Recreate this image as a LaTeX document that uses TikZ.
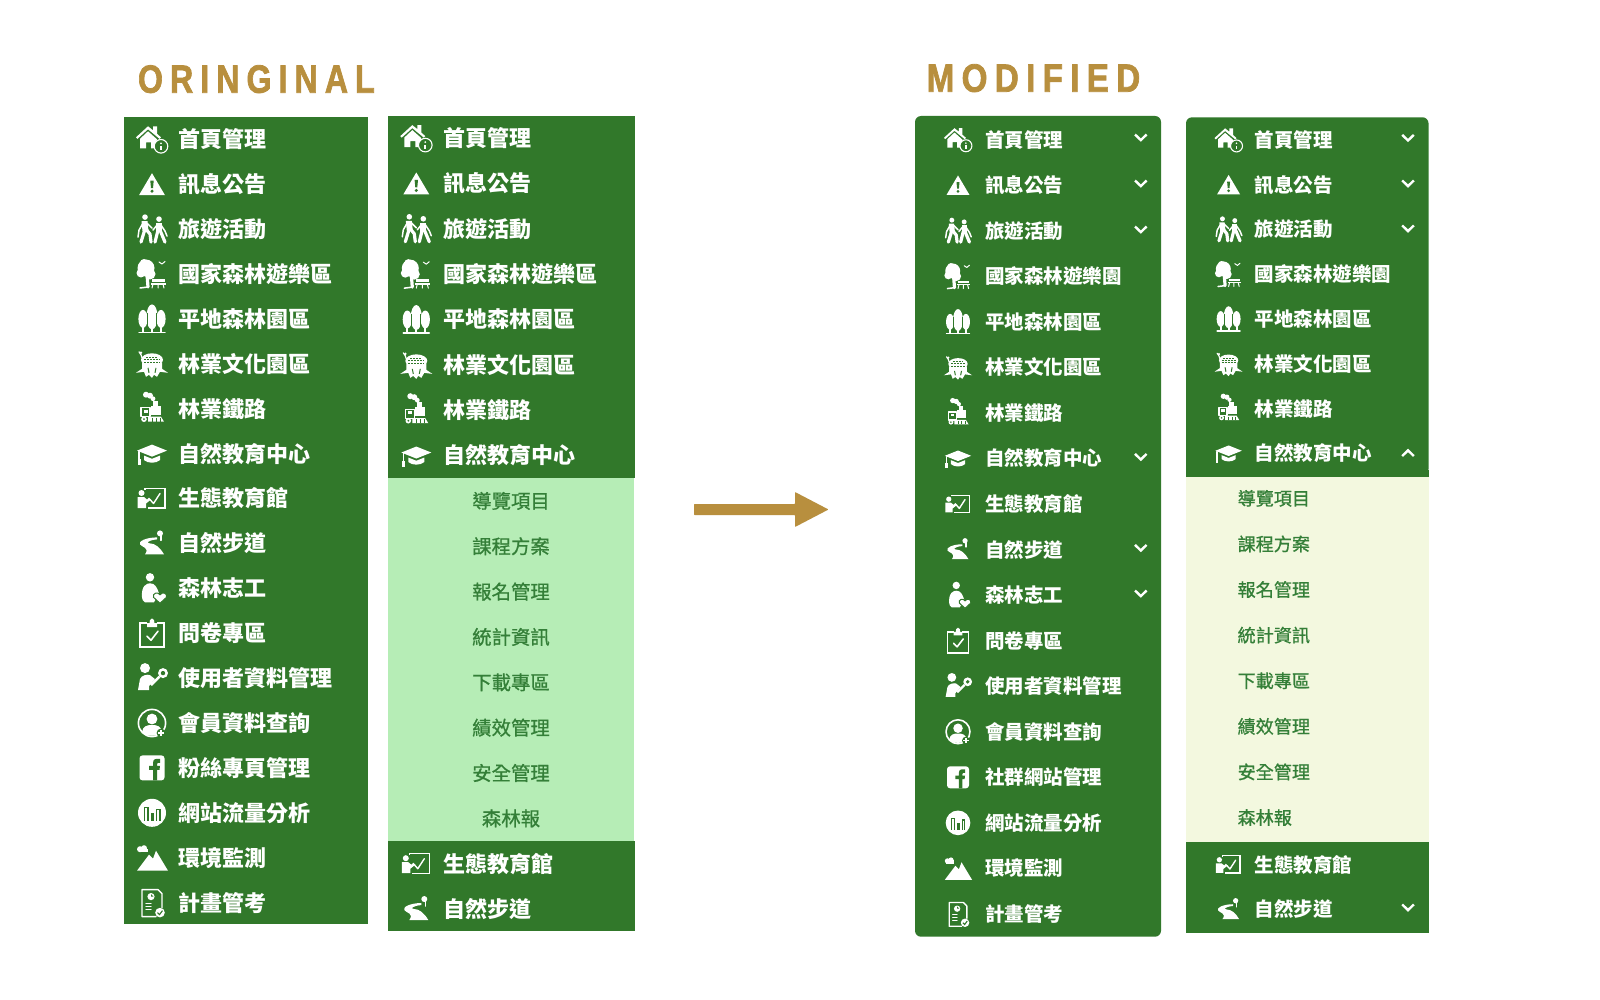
\documentclass[tikz,border=0pt]{standalone}
\usepackage{fontspec}
\newfontfamily\cjkf{Noto Sans CJK TC}
\newfontfamily\cjkg[FakeBold=0.8]{Noto Sans CJK TC}
\newfontfamily\titlef[LetterSpace=22,BoldFeatures={FakeBold=2}]{Liberation Sans}
\definecolor{barg}{HTML}{31782A}
\definecolor{barl}{HTML}{B6EDB6}
\definecolor{barc}{HTML}{F3F8DF}
\definecolor{gold}{HTML}{B88F3E}
\definecolor{subg}{HTML}{347F38}
\tikzset{
  iw/.style={fill=white,draw=none},
  ig/.style={fill=barg,draw=none},
  is/.style={draw=white,line width=1.5,fill=none,line join=round,line cap=round},
  il/.style={draw=white,line width=3.2,fill=none,line join=round,line cap=round},
  igl/.style={draw=barg,line width=1,fill=none},
  lblA/.style={font=\cjkf\bfseries\fontsize{22}{22}\selectfont,text=white,inner sep=0pt,anchor=west,text height=19.4pt,text depth=2.6pt},
  lblB/.style={font=\cjkf\bfseries\fontsize{19.5}{20}\selectfont,text=white,inner sep=0pt,anchor=west,text height=17.2pt,text depth=2.3pt},
  subA/.style={font=\cjkg\fontsize{19.4}{20}\selectfont,text=subg,inner sep=0pt,anchor=center,text height=17.1pt,text depth=2.3pt},
  subB/.style={font=\cjkg\fontsize{18.1}{19}\selectfont,text=subg,inner sep=0pt,anchor=west,text height=16pt,text depth=2.1pt},
  ttl/.style={text=gold,inner sep=0pt,anchor=north west},
  chev/.style={draw=white,line width=2.4,fill=none},
  panelg/.style={fill=barg,draw=none},
}
\newcommand\icHouse{
  \fill[iw] (-16,-2)--(-4,-13)--(1,-9)--(1,-13)--(5,-13)--(5,-5.5)--(9,-2)--(7.5,-.5)--(-4,-10)--(-14.5,-.5)--cycle;
  \fill[iw] (-12,-.5)--(-4,-8)--(5,0)--(3,9)--(-1,9)--(-1,3)--(-6,3)--(-6,9)--(-12,9)--cycle;
  \filldraw[fill=barg,draw=white,line width=1.1] (9,7) circle (6.8);
  \fill[iw] (9,4) circle (1);
  \fill[iw] (8,6.5) rectangle (10,11);
}
\newcommand\icWarn{
  \fill[iw] (-13,11)--(0,-11)--(13,11)--cycle;
  \fill[ig] (-1.7,-3.5)--(1.7,-3.5)--(1,4)--(-1,4)--cycle;
  \fill[ig] (0,7) circle (1.7);
}
\newcommand\icHike{
  \fill[iw] (-7,-12) circle (2.8);
  \fill[iw] (7,-10) circle (2.8);
  \fill[iw] (-10.5,-8)--(-4.5,-8)--(-3.5,2)--(-9.5,2)--cycle;
  \draw[il] (-7,0)--(-11,13);
  \draw[il] (-6,0)--(-2,5)--(-1,13);
  \draw[is] (-9,-6)--(-13,1)--(-14,8);
  \draw[is] (-5,-6)--(0,-1);
  \fill[iw] (4,-6)--(10,-6)--(10,3)--(4,3)--cycle;
  \draw[il] (6,1)--(3,13);
  \draw[il] (8,1)--(13,13);
  \draw[is] (9,-4)--(13,2)--(15,7);
  \draw[is] (5,-4)--(1,1);
}
\newcommand\icTree{
  \fill[iw] (-6,-6) circle (8.5);
  \fill[iw] (-11,-1) circle (4.5);
  \fill[iw] (-2,0) circle (5.5);
  \fill[iw] (-8,-11) circle (4);
  \draw[il] (-5,0)--(-4,13);
  \draw[is] (-4,13)--(-12,14);
  \fill[iw] (0,5) rectangle (13,7.5);
  \fill[iw] (-1,9) rectangle (14,10.5);
  \draw[is,line width=1] (1,10)--(0,14) (11,10)--(12,14) (6,10)--(6,14);
  \draw[is,line width=1] (7,-12)--(10,-10)--(13,-12.5);
}
\newcommand\icTrees{
  \fill[iw] (-9,0) ellipse [x radius=4.6,y radius=9];
  \fill[iw] (9,0) ellipse [x radius=4.6,y radius=9];
  \fill[iw] (0,-2) ellipse [x radius=5.6,y radius=12.5];
  \draw[igl] (-4.6,-6)--(-4.6,8) (4.6,-6)--(4.6,8);
  \draw[is,line width=2] (-9,8)--(-9,13) (0,8)--(0,13) (9,8)--(9,13);
  \draw[is] (-13,13.5)--(13,13.5);
}
\newcommand\icStump{
  \fill[iw] (0,-4) ellipse [x radius=11,y radius=6.5];
  \fill[iw] (-10,-1)--(10,-1)--(10,5)--(16,9)--(8,8)--(5,13)--(2,11)--(0,14)--(-3,11)--(-6,13)--(-8,8)--(-16,9)--(-10,5)--cycle;
  \draw[igl,dash pattern=on 2pt off 1pt] (-8,-4)--(8,-4) (-6,-6.5)--(6,-6.5) (-8,-1.5)--(8,-1.5);
  \draw[igl] (-4,4)--(-3,9) (4,4)--(3,9);
  \draw[is,line width=1.2] (-10,-6)--(-11,-9)--(-13,-12);
  \fill[iw] (-11,-11) circle (1.4);
}
\newcommand\icTrain{
  \fill[iw] (-6,-14) circle (3);
  \fill[iw] (-2,-13) circle (3);
  \fill[iw] (1,-10) circle (2.4);
  \fill[iw] (1,-8) rectangle (6,-3);
  \fill[iw] (-1,-3) rectangle (9,6);
  \draw[is,line width=1.3] (-11,-1) rectangle (-2,8);
  \fill[iw] (-8.5,1) rectangle (-4.5,4);
  \fill[iw] (-8,10.5) circle (2.8);
  \fill[ig] (-8,10.5) circle (1);
  \fill[iw] (-4,8)--(9,8)--(12,13)--(-4,13)--cycle;
  \draw[igl] (0,9)--(0,13) (4,9)--(4,13) (8,9)--(8,13);
}
\newcommand\icCap{
  \fill[iw] (-15,-3)--(0,-9)--(15,-3)--(0,3)--cycle;
  \fill[iw] (-8,2)--(0,5.2)--(8,2)--(8,6.5) .. controls (4,10) and (-4,10) .. (-8,6.5)--cycle;
  \draw[is,line width=1.5] (-13,-2)--(-13,9);
  \fill[iw] (-14.5,5) rectangle (-11.5,11);
}
\newcommand\icBoard{
  \fill[iw] (-10.5,-5.5) circle (3);
  \fill[iw] (-14.5,-1.5)--(-8,-1.5)--(-5,1)--(-3,-1)--(-1,1)--(-6,5)--(-6,9.5)--(-14.5,9.5)--cycle;
  \draw[is,line width=1.3,line cap=butt,line join=miter] (-7,-9)--(-7,-10)--(13,-10)--(13,9.5)--(-4,9.5);
  \draw[is,line width=1.4] (-2,1)--(1.5,5)--(8,-5);
}
\newcommand\icPath{
  \fill[iw] (5,-6) .. controls (-6,-6) and (-14,-2) .. (-12,1) .. controls (-10,4) and (-2,4) .. (-7,11)--(12,11) .. controls (8,4) and (3,0) .. (-2,0) .. controls (-6,0) and (-5,-3) .. (5,-4)--cycle;
  \fill[iw] (8,-10) circle (3);
  \draw[is,line width=1.4] (9,-8)--(9,-3);
}
\newcommand\icVol{
  \fill[iw] (-2,-11) circle (4.2);
  \fill[iw] (-10,9) .. controls (-11,-3) and (-5,-5) .. (-2,-5) .. controls (3,-5) and (5,-1) .. (7,5)--(2,14)--(-7,14) .. controls (-9,13) and (-10,11) .. (-10,9)--cycle;
  \filldraw[fill=white,draw=barg,line width=1] (8,15)--(1.5,9) .. controls (0,5) and (6,3) .. (8,6.5) .. controls (10,3) and (16,5) .. (14.5,9)--cycle;
}
\newcommand\icClip{
  \draw[is,line cap=butt,line join=miter,line width=1.8] (-5,-10)--(-12,-10)--(-12,14)--(12,14)--(12,-10)--(5,-10);
  \fill[iw] (-5,-10)--(-2.5,-10)--(-2,-13) .. controls (-1,-15.5) and (1,-15.5) .. (2,-13)--(2.5,-10)--(5,-10)--(5,-6)--(-5,-6)--cycle;
  \draw[is,line width=1.6] (-5,3)--(-1,7)--(6,-2);
}
\newcommand\icUserKey{
  \fill[iw] (-7,-10) circle (5);
  \fill[iw] (-14,12)--(-12,1) .. controls (-11,-3) and (-4,-4) .. (-2,-3)--(3,1)--(-3,8)--(-3,12)--cycle;
  \fill[iw] (11,-5) circle (5);
  \fill[ig] (11,-5) circle (2.2);
  \draw[il,line width=2.4,line cap=butt] (7.5,-1.5)--(-1,7);
}
\newcommand\icMember{
  \draw[is,line width=1.6] (0,0) circle (13.6);
  \fill[iw] (0,-4) circle (5.4);
  \fill[iw] (-10,9)  .. controls (-9,3) and (-5,2) .. (0,2) .. controls (5,2) and (9,3) .. (10,9) .. controls (6,14) and (-6,14) .. (-10,9)--cycle;
  \fill[ig] (9,10) circle (4.4);
  \draw[is,line width=1.3,line cap=butt] (9,7)--(9,13) (6,10)--(12,10);
}
\newcommand\icFb{
  \fill[iw,rounded corners=3] (-12.5,-12.5) rectangle (12.5,12.5);
  \fill[ig] (1,12.5)--(1,2)--(-3,2)--(-3,-2)--(1,-2)--(1,-5) .. controls (1,-9) and (4,-9.5) .. (8,-9)--(8,-5)--(6,-5) .. controls (5,-5) and (5,-4) .. (5,-2)--(8,-2)--(7.5,2)--(5,2)--(5,12.5)--cycle;
}
\newcommand\icChart{
  \fill[iw] (0,0) circle (14);
  \fill[ig] (-8,-6) rectangle (-3.5,8);
  \fill[iw] (-6.8,-4.5) rectangle (-4.7,8);
  \fill[ig] (-1.5,0) rectangle (2,8);
  \fill[ig] (4,-4) rectangle (8.5,8);
  \fill[iw] (5.2,-2.5) rectangle (7.3,8);
}
\newcommand\icMount{
  \fill[iw] (-15,13)--(-3,-3)--(1,1)--(4,-7)--(16,13)--cycle;
  \fill[iw] (-12,-8.5) circle (3);
  \fill[iw] (-8,-9.5) circle (3);
  \fill[iw] (-13.5,-9) rectangle (-4,-5.5);
}
\newcommand\icDoc{
  \draw[is,line width=1.4] (4,14)--(-10,14)--(-10,-13)--(6,-13)--(10,-9)--(10,5);
  \fill[iw] (-1,-6) circle (3.6);
  \fill[ig] (-1,-6)--(-1,-8.6)--(1.6,-6)--cycle;
  \draw[is,line width=1.1] (-6,1)--(-1,1) (-6,4)--(-1,4) (-6,7)--(-1,7);
  \fill[iw] (8,10) circle (4.8);
  \draw[igl,line width=1.1] (5.5,10)--(7.5,12)--(10.5,8);
}
\newcommand\iconat[3]{\begin{scope}[shift={(#1,#2)},scale=#3]\csname ic\icn\endcsname\end{scope}}
\begin{document}
\begin{tikzpicture}[x=1pt,y=-1pt]
\useasboundingbox (0,0) rectangle (1600,1000);
\fill[white] (0,0) rectangle (1600,1000);
% titles
\node[ttl] (titleA) at (137.8,65) {\resizebox{236.7pt}{27.5pt}{\titlef\bfseries ORINGINAL}};
\node[ttl] (titleB) at (926.5,64) {\resizebox{213.5pt}{27.5pt}{\titlef\bfseries MODIFIED}};
% arrow
\fill[gold,rounded corners=.6pt] (694,504)--(795,504)--(795,492)--(828.5,509.5)--(795,527)--(795,515)--(694,515)--cycle;
% panels
\fill[panelg] (124,117.3) rectangle (368.4,924);
\fill[panelg] (388,116) rectangle (634.7,478);
\fill[barl] (388,478) rectangle (634,841.3);
\fill[panelg] (388,841.3) rectangle (634.7,930.7);
\fill[panelg,rounded corners=6pt] (915,116) rectangle (1161,936.7);
\fill[panelg,rounded corners=6pt] (1186,475) -- (1186,117.3) -- (1428.5,117.3) -- (1428.5,475) -- cycle;
\fill[barc] (1186,476.7) rectangle (1428.5,841.7);
\fill[panelg] (1186,841.7) rectangle (1428.5,932.7);
\fill[panelg] (1186,470) rectangle (1428.5,476.7);
% panel A
\foreach \i/\icn/\tx in {0/House/首頁管理,1/Warn/訊息公告,2/Hike/旅遊活動,3/Tree/國家森林遊樂區,4/Trees/平地森林園區,5/Stump/林業文化園區,6/Train/林業鐵路,7/Cap/自然教育中心,8/Board/生態教育館,9/Path/自然步道,10/Vol/森林志工,11/Clip/問卷專區,12/UserKey/使用者資料管理,13/Member/會員資料查詢,14/Fb/粉絲專頁管理,15/Chart/網站流量分析,16/Mount/環境監測,17/Doc/計畫管考}{
  \pgfmathsetmacro\yy{139.3+44.9*\i}
  \iconat{152}{\yy}{1}
  \node[lblA] (a\i) at (178,\yy) {\tx};
}
% panel B
\foreach \i/\icn/\tx in {0/House/首頁管理,1/Warn/訊息公告,2/Hike/旅遊活動,3/Tree/國家森林遊樂區,4/Trees/平地森林園區,5/Stump/林業文化園區,6/Train/林業鐵路,7/Cap/自然教育中心,16/Board/生態教育館,17/Path/自然步道}{
  \pgfmathsetmacro\yy{138.1+45.35*\i}
  \iconat{416.3}{\yy}{1}
  \node[lblA] (b\i) at (443.4,\yy) {\tx};
}
\foreach \i/\tx in {8/導覽項目,9/課程方案,10/報名管理,11/統計資訊,12/下載專區,13/績效管理,14/安全管理,15/森林報}{
  \pgfmathsetmacro\yy{138.1+45.35*\i}
  \node[subA] (bs\i) at (511,\yy) {\tx};
}
% panel C
\foreach \i/\icn/\tx in {0/House/首頁管理,1/Warn/訊息公告,2/Hike/旅遊活動,3/Tree/國家森林遊樂園,4/Trees/平地森林園區,5/Stump/林業文化園區,6/Train/林業鐵路,7/Cap/自然教育中心,8/Board/生態教育館,9/Path/自然步道,10/Vol/森林志工,11/Clip/問卷專區,12/UserKey/使用者資料管理,13/Member/會員資料查詢,14/Fb/社群網站管理,15/Chart/網站流量分析,16/Mount/環境監測,17/Doc/計畫管考}{
  \pgfmathsetmacro\yy{139.6+45.55*\i}
  \iconat{958}{\yy}{.88}
  \node[lblB] (c\i) at (985.2,\yy) {\tx};
}
\foreach \yy in {137.3,183.3,229.3,456.7,547.7,593.3}{
  \draw[chev] (1135,\yy-2.8)--(1140.8,\yy+2.8)--(1146.6,\yy-2.8);
}
% panel D
\foreach \i/\icn/\tx in {0/House/首頁管理,1/Warn/訊息公告,2/Hike/旅遊活動,3/Tree/國家森林遊樂園,4/Trees/平地森林園區,5/Stump/林業文化園區,6/Train/林業鐵路,7/Cap/自然教育中心}{
  \pgfmathsetmacro\yy{139.8+44.8*\i}
  \iconat{1228.6}{\yy}{.88}
  \node[lblB] (d\i) at (1254.6,\yy) {\tx};
}
\foreach \yy/\icn/\tx/\nm in {864.6/Board/生態教育館/dx,909.5/Path/自然步道/dy}{
  \iconat{1228.6}{\yy}{.88}
  \node[lblB] (\nm) at (1254.6,\yy) {\tx};
}
\foreach \i/\tx in {0/導覽項目,1/課程方案,2/報名管理,3/統計資訊,4/下載專區,5/績效管理,6/安全管理,7/森林報}{
  \pgfmathsetmacro\yy{498.3+45.6*\i}
  \node[subB] (ds\i) at (1237.4,\yy) {\tx};
}
\foreach \yy in {137.7,183.3,228.3,907.3}{
  \draw[chev] (1402.2,\yy-2.8)--(1408,\yy+2.8)--(1413.8,\yy-2.8);
}
\draw[chev] (1402.2,456)--(1408,450.4)--(1413.8,456);
\end{tikzpicture}
\end{document}
